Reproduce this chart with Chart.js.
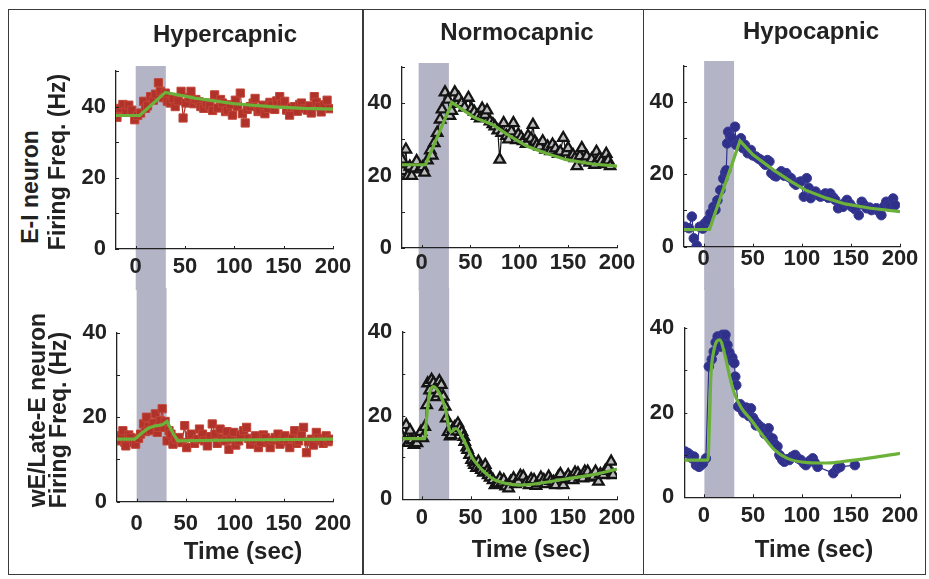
<!DOCTYPE html>
<html>
<head>
<meta charset="utf-8">
<script src="https://cdn.jsdelivr.net/npm/chart.js@4.4.0/dist/chart.umd.min.js"></script>
<style>
html,body{margin:0;padding:0;background:#fff;}
#wrap{position:relative;width:929px;height:579px;overflow:hidden;background:#fff;font-family:Arial,"Liberation Sans",Helvetica,sans-serif;}
#wrap canvas{position:absolute;}
.box{position:absolute;border:1.5px solid #3a3a3a;box-sizing:border-box;pointer-events:none;}
.t{position:absolute;font-weight:bold;color:#222;white-space:nowrap;line-height:1;transform:translate(-50%,-50%);}
.r{transform:translate(-50%,-50%) rotate(-90deg);}
</style>
</head>
<body>
<div id="wrap"></div>
<script>
// ---------------- DATA ----------------
const xTickValues = [0, 50, 100, 150, 200];
const yTickValues = [0, 20, 40];
const xRange = [-20, 200];
const yMaxByRow = [50, 40];
const columnTitles = ['Hypercapnic', 'Normocapnic', 'Hypocapnic'];
const rowTitles = [['E-I neuron', 'Firing Freq. (Hz)'], ['wE/Late-E neuron', 'Firing Freq. (Hz)']];
const xAxisTitle = 'Time (sec)';
// stimulus (gray band) windows, sec, per column
const stimulusWindows = [[0, 30.5], [-3, 28], [0.5, 31]];

// E-I neuron, hypercapnic  [time s, rate Hz]
const hyperEI = [[-19,37.0],[-16,39.5],[-13,40.6],[-10,38.5],[-7,40.4],[-4,39.0],[-1,36.3],[2,37.5],[5,38.2],[8,41.5],[10,39.5],[12,40.2],[15,42.8],[18,41.8],[20,43.5],[23,46.7],[25,44.3],[28,42.5],[30,43.8],[32,41.5],[35,41.0],[38,42.2],[40,40.0],[43,41.6],[46,44.3],[48,36.8],[51,41.0],[54,42.5],[56,44.3],[59,40.8],[61,42.0],[64,41.4],[66,40.0],[69,39.5],[72,41.0],[75,40.2],[78,38.9],[80,43.3],[83,39.6],[86,42.0],[88,41.0],[91,38.6],[93,39.0],[96,40.5],[98,37.6],[101,41.8],[103,40.0],[106,43.8],[108,38.0],[111,35.4],[113,39.2],[116,40.0],[119,41.0],[121,42.3],[124,38.6],[126,39.0],[129,40.4],[131,38.0],[134,39.5],[136,41.2],[138,40.5],[141,39.2],[143,41.6],[146,42.8],[148,40.8],[151,41.5],[153,39.0],[156,37.6],[158,39.8],[161,40.0],[164,38.7],[166,40.6],[168,41.0],[171,39.4],[174,39.0],[176,40.2],[178,38.2],[181,42.8],[183,41.2],[186,40.0],[188,38.5],[191,40.5],[194,41.8],[197,39.4]];
const hyperEIFit = [[-20,37.5],[4,37.5],[30,44.0],[60,42.4],[100,40.8],[140,39.9],[170,39.5],[200,39.3]];

// E-I neuron, normocapnic
const normoEI = [[-20,24.4],[-19,21.2],[-16,27.2],[-14,19.9],[-12,22.5],[-10,19.9],[-7,22.0],[-5,24.0],[-2,21.7],[1,22.3],[3,20.8],[6,24.2],[9,27.0],[11,25.5],[13,29.0],[16,31.8],[19,35.5],[21,38.3],[24,43.0],[27,41.0],[29,36.5],[31,37.9],[34,43.0],[36,39.8],[38,41.5],[41,40.0],[44,38.8],[48,41.5],[51,38.5],[54,37.6],[57,36.5],[60,35.8],[62,38.5],[65,36.8],[67,38.0],[70,35.0],[73,34.2],[75,33.6],[78,32.5],[80,24.4],[82,31.8],[84,34.5],[87,31.0],[89,30.0],[92,32.2],[94,34.5],[97,29.8],[99,31.4],[102,30.6],[104,29.5],[107,28.8],[109,31.0],[112,30.2],[114,34.0],[116,29.4],[118,28.5],[121,28.0],[124,29.5],[127,27.2],[129,28.0],[132,26.8],[134,28.6],[137,27.5],[140,26.0],[142,26.6],[145,30.4],[148,26.4],[150,27.6],[153,25.2],[155,25.7],[157,24.8],[159,22.6],[162,25.4],[164,27.6],[167,24.2],[169,25.3],[172,23.6],[174,24.5],[177,23.0],[179,26.6],[182,24.8],[184,24.0],[187,23.2],[189,26.0],[191,24.2],[193,22.6]];
const normoEIFit = [[-20,23.0],[4,23.0],[27,37.5],[31,40.2],[54,36.0],[72,34.2],[90,31.0],[108,28.1],[128,26.1],[148,24.4],[175,23.2],[200,22.6]];

// E-I neuron, hypocapnic
const hypoEI = [[-19,5.5],[-15,5.1],[-12,8.3],[-10,2.3],[-7,0.3],[-4,5.5],[-1,5.0],[1,6.4],[4,7.3],[7,9.2],[10,11.0],[12,10.2],[14,12.8],[17,15.6],[20,18.8],[22,20.5],[23,21.1],[24,28.5],[25,31.7],[27,30.5],[29,29.9],[32,33.1],[33,28.1],[36,28.9],[38,29.9],[40,27.2],[42,28.1],[45,25.8],[48,26.7],[50,25.2],[53,24.9],[56,24.3],[58,24.0],[61,23.2],[63,22.6],[65,23.9],[67,23.5],[69,20.3],[72,19.6],[74,19.4],[77,20.2],[79,20.8],[82,19.6],[84,20.3],[87,19.2],[89,18.9],[92,17.6],[94,17.1],[97,17.8],[99,18.0],[102,13.8],[105,18.9],[107,16.2],[109,13.4],[112,14.6],[114,15.2],[117,14.2],[119,13.8],[122,14.1],[124,14.7],[127,13.5],[129,14.7],[132,13.6],[134,12.9],[137,10.6],[140,11.4],[142,11.0],[144,12.2],[146,12.9],[149,11.8],[151,11.0],[154,10.4],[158,8.7],[161,12.4],[163,11.6],[166,10.6],[169,10.8],[171,10.1],[174,10.4],[176,10.6],[179,9.6],[181,8.7],[184,11.2],[186,12.4],[188,11.6],[190,11.0],[193,13.3],[195,11.5]];
const hypoEIFit = [[-20,4.7],[6,4.8],[37,29.2],[50,25.4],[71,21.2],[90,17.8],[104,15.6],[125,13.4],[144,11.8],[170,10.6],[200,9.7]];

// wE/Late-E neuron, hypercapnic
const hyperLE = [[-19,14.4],[-16,15.6],[-14,16.8],[-12,14.0],[-11,13.2],[-8,15.8],[-6,15.2],[-3,14.0],[-1,13.6],[2,15.0],[4,16.0],[7,18.4],[9,16.6],[10,20.0],[12,17.8],[14,16.8],[17,18.6],[19,20.8],[21,16.4],[22,17.6],[24,19.2],[26,22.0],[28,17.6],[29,19.0],[31,14.4],[33,16.8],[35,16.0],[37,13.6],[40,14.8],[43,15.2],[46,14.0],[49,18.0],[51,12.8],[54,15.6],[56,16.0],[59,13.8],[62,14.8],[64,17.2],[67,16.0],[69,14.4],[72,13.2],[75,15.4],[77,18.4],[80,16.0],[82,13.8],[85,17.2],[87,15.0],[90,14.4],[92,16.6],[94,12.4],[96,14.8],[99,16.4],[101,13.4],[104,14.4],[106,15.8],[109,16.8],[112,17.6],[114,15.0],[116,13.6],[119,14.6],[121,15.6],[124,12.8],[126,14.0],[129,15.8],[131,15.2],[134,14.0],[136,12.8],[139,14.6],[141,15.2],[144,16.0],[146,13.6],[149,14.8],[151,15.6],[154,14.2],[156,12.8],[159,15.0],[161,16.8],[163,13.8],[165,14.4],[168,15.8],[170,17.6],[173,11.6],[175,14.2],[178,14.8],[180,13.4],[183,16.4],[185,15.0],[188,14.4],[190,13.8],[193,15.6],[195,14.2],[197,14.8]];
const hyperLEFit = [[-20,14.8],[-2,14.8],[5,16.2],[12,17.4],[18,17.9],[26,18.2],[31,19.0],[37,16.2],[42,14.4],[100,14.6],[200,14.8]];

// wE/Late-E neuron, normocapnic
const normoLE = [[-20,14.9],[-18,13.7],[-16,17.7],[-14,13.5],[-12,16.4],[-10,14.1],[-8,13.0],[-5,13.4],[-3,14.8],[-1,16.1],[1,14.6],[3,17.3],[5,22.5],[6,27.7],[8,26.0],[10,28.5],[12,27.8],[13,26.1],[15,24.4],[17,25.3],[18,28.2],[20,27.3],[22,24.5],[24,22.1],[25,19.3],[27,16.1],[29,15.0],[30,15.3],[32,16.8],[34,17.3],[36,16.2],[37,18.1],[39,17.0],[41,16.1],[43,14.9],[44,13.7],[46,12.4],[47,11.8],[49,10.6],[51,9.4],[53,8.8],[54,8.2],[56,7.5],[58,9.0],[60,7.8],[61,7.0],[63,6.4],[65,8.2],[67,6.8],[68,5.8],[70,5.2],[73,4.6],[75,3.4],[78,3.8],[80,5.0],[82,4.0],[84,4.6],[86,3.1],[89,2.6],[91,4.2],[94,5.0],[96,3.6],[99,4.2],[101,5.6],[104,5.4],[107,4.0],[110,3.4],[112,4.8],[115,4.6],[117,3.2],[120,3.8],[122,5.2],[125,4.6],[127,3.6],[130,5.4],[132,4.4],[135,4.2],[137,3.4],[140,5.4],[142,6.0],[145,3.4],[147,4.8],[150,5.8],[152,5.0],[155,4.6],[157,6.4],[160,6.2],[162,5.2],[165,5.0],[167,6.6],[170,6.6],[173,5.2],[176,5.4],[178,6.6],[181,4.2],[183,6.0],[186,5.8],[188,6.8],[191,7.4],[194,9.0],[196,5.8]];
const normoLEFit = [[-20,14.5],[3,14.5],[5,19.7],[8,25.3],[12,26.9],[18,25.3],[24,21.7],[28,16.9],[30,16.1],[35,16.9],[42,14.6],[52,9.8],[65,6.3],[75,4.6],[86,3.8],[100,3.4],[120,3.8],[141,4.6],[160,5.3],[176,5.9],[200,7.2]];

// wE/Late-E neuron, hypocapnic
const hypoLE = [[-19,10.8],[-16,10.4],[-14,10.0],[-12,9.2],[-10,9.6],[-8,7.6],[-6,7.8],[-5,7.2],[-3,7.6],[-1,8.0],[2,9.2],[5,30.9],[8,32.6],[10,34.4],[12,36.6],[14,38.0],[16,37.0],[17,35.6],[19,38.4],[21,37.4],[22,38.4],[24,36.0],[26,34.2],[27,32.5],[29,33.0],[31,31.7],[32,28.5],[33,26.5],[35,21.4],[37,22.0],[38,21.0],[40,20.2],[41,19.9],[43,21.2],[44,20.2],[46,19.2],[48,21.0],[50,18.8],[51,18.3],[53,17.0],[54,17.5],[57,16.8],[60,16.3],[62,15.0],[63,15.5],[65,14.8],[66,16.3],[68,13.8],[70,13.9],[72,12.6],[75,12.0],[77,10.0],[78,9.6],[80,8.8],[82,8.4],[85,9.0],[87,8.8],[90,9.6],[93,10.0],[96,9.2],[99,8.8],[102,8.0],[104,7.6],[108,8.6],[111,9.2],[113,8.2],[116,7.2],[132,5.7],[136,6.8],[139,7.2],[154,7.6]];
const hypoLEFit = [[-20,8.8],[4,8.8],[6,20],[7,28],[10,34.5],[16,37.2],[22,33.0],[26,28.8],[31,24.6],[38,21.2],[48,18.3],[60,14.6],[72,11.2],[85,9.2],[106,8.2],[125,8.1],[140,8.4],[170,9.3],[200,10.4]];

// ---------------- STYLE / LAYOUT ----------------
const FONT = 'Arial, "Liberation Sans", Helvetica, sans-serif';
const markerStyles = {
  red:  {pointStyle: 'rect', radius: 5.8, bg: '#b0322a', border: '#c24536', line: '#b0322a', bw: 1},
  tri:  {pointStyle: 'triangle', radius: 6, bg: '#bdbdbd', border: '#141414', line: '#141414', bw: 2.3},
  blue: {pointStyle: 'circle', radius: 4.8, bg: '#2f3089', border: '#3a3b96', line: '#2f3089', bw: 1}
};
const fitColor = '#6cb23a';
const bandColor = '#b4b4c7';

const panels = [
  {data: hyperEI, fit: hyperEIFit, m: 'red',  row: 0, col: 0, smooth: false,
   canvas: {l: 56, t: 30, r: 363, b: 290}, area: {l: 116, t: 71, r: 333, b: 249}, xPad: 6.5, bandOver: 5},
  {data: normoEI, fit: normoEIFit, m: 'tri',  row: 0, col: 1, smooth: false,
   canvas: {l: 342, t: 30, r: 647, b: 290}, area: {l: 402, t: 67, r: 617, b: 248}, xPad: 4, bandOver: 4},
  {data: hypoEI,  fit: hypoEIFit,  m: 'blue', row: 0, col: 2, smooth: false,
   canvas: {l: 624, t: 30, r: 929, b: 290}, area: {l: 684, t: 65.5, r: 900, b: 246.7}, xPad: 1.5, bandOver: 4.5},
  {data: hyperLE, fit: hyperLEFit, m: 'red',  row: 1, col: 0, smooth: false,
   canvas: {l: 57, t: 288, r: 363, b: 540}, area: {l: 117, t: 332.7, r: 333, b: 501.7}, xPad: 11},
  {data: normoLE, fit: normoLEFit, m: 'tri',  row: 1, col: 1, smooth: true,
   canvas: {l: 342, t: 288, r: 647, b: 540}, area: {l: 402.3, t: 331.7, r: 617, b: 499.3}, xPad: 7.5},
  {data: hypoLE,  fit: hypoLEFit,  m: 'blue', row: 1, col: 2, smooth: true,
   canvas: {l: 624, t: 288, r: 929, b: 540}, area: {l: 684.3, t: 328, r: 900, b: 497.3}, xPad: 8}
];

const bandPlugin = {
  id: 'stimBand',
  beforeDraw(chart, args, opts) {
    const {ctx, chartArea, scales} = chart;
    const x0 = scales.x.getPixelForValue(opts.from);
    const x1 = scales.x.getPixelForValue(opts.to);
    const top = opts.row === 0 ? chartArea.top - opts.over : 0;
    const bottom = opts.row === 0 ? chart.height : chartArea.bottom;
    ctx.save();
    ctx.fillStyle = bandColor;
    ctx.fillRect(x0, top, x1 - x0, bottom - top);
    ctx.restore();
  }
};

// small inward tick marks on both axes
const innerTicks = {
  id: 'innerTicks',
  afterDatasetsDraw(chart) {
    const {ctx, chartArea, scales} = chart;
    ctx.save();
    ctx.strokeStyle = '#222';
    ctx.lineWidth = 1;
    ctx.beginPath();
    for (let v = 0; v <= scales.y.max; v += 10) {
      const py = Math.round(scales.y.getPixelForValue(v)) + 0.5;
      ctx.moveTo(chartArea.left, py); ctx.lineTo(chartArea.left + 3, py);
    }
    xTickValues.forEach(v => {
      const px = Math.round(scales.x.getPixelForValue(v)) + 0.5;
      ctx.moveTo(px, chartArea.bottom); ctx.lineTo(px, chartArea.bottom - 3);
    });
    ctx.stroke();
    ctx.restore();
  }
};

const wrap = document.getElementById('wrap');
const toXY = arr => arr.map(([x, y]) => ({x, y}));

panels.forEach(p => {
  const cv = document.createElement('canvas');
  const w = p.canvas.r - p.canvas.l, h = p.canvas.b - p.canvas.t;
  cv.width = w; cv.height = h;
  cv.style.left = p.canvas.l + 'px'; cv.style.top = p.canvas.t + 'px';
  cv.style.width = w + 'px'; cv.style.height = h + 'px';
  wrap.appendChild(cv);
  const yAxisW = p.area.l - p.canvas.l;
  const xAxisH = p.canvas.b - p.area.b;
  const ms = markerStyles[p.m];
  const win = stimulusWindows[p.col];
  const tickFont = {family: FONT, size: 22, weight: 'bold', lineHeight: 1};
  new Chart(cv, {
    type: 'scatter',
    data: {
      datasets: [
        {data: toXY(p.fit), showLine: true, borderColor: fitColor, borderWidth: 3.2,
         pointRadius: 0, fill: false,
         tension: p.smooth ? 0.4 : 0, cubicInterpolationMode: p.smooth ? 'monotone' : 'default'},
        {data: toXY(p.data), showLine: true, borderColor: ms.line, borderWidth: 1.2,
         pointStyle: ms.pointStyle, pointRadius: ms.radius, pointBackgroundColor: ms.bg,
         pointBorderColor: ms.border, pointBorderWidth: ms.bw, fill: false, tension: 0}
      ]
    },
    options: {
      responsive: false, animation: false, events: [],
      devicePixelRatio: 1,
      layout: {padding: {left: 0, top: p.area.t - p.canvas.t, right: p.canvas.r - p.area.r, bottom: 0}},
      plugins: {legend: {display: false}, tooltip: {enabled: false},
                stimBand: {from: win[0], to: win[1], row: p.row, over: p.bandOver || 0}},
      scales: {
        x: {type: 'linear', min: xRange[0], max: xRange[1],
            grid: {display: false, drawTicks: false},
            border: {display: true, color: '#222', width: 1.3},
            ticks: {font: tickFont, color: '#222', padding: p.xPad, maxRotation: 0, autoSkip: false},
            afterBuildTicks: s => { s.ticks = xTickValues.map(v => ({value: v})); },
            afterFit: s => { s.height = xAxisH; s.paddingLeft = 0; s.paddingRight = 0; }},
        y: {type: 'linear', min: 0, max: yMaxByRow[p.row],
            grid: {display: false, drawTicks: false},
            border: {display: true, color: '#222', width: 1.3},
            ticks: {font: tickFont, color: '#222', padding: 10},
            afterBuildTicks: s => { s.ticks = yTickValues.map(v => ({value: v})); },
            afterFit: s => { s.width = yAxisW; s.paddingTop = 0; s.paddingBottom = 0; }}
      }
    },
    plugins: [bandPlugin, innerTicks]
  });
});

// ---------------- TEXT & FRAMES ----------------
function addText(txt, x, y, size, rotate) {
  const d = document.createElement('div');
  d.className = 't' + (rotate ? ' r' : '');
  d.textContent = txt;
  d.style.left = x + 'px'; d.style.top = y + 'px'; d.style.fontSize = size + 'px';
  wrap.appendChild(d);
}
const titlePos = [[225, 34], [517, 32], [811, 31]];
columnTitles.forEach((t, i) => addText(t, titlePos[i][0], titlePos[i][1], 24, false));
const xTitlePos = [[243, 551], [531, 549], [814, 549]];
xTitlePos.forEach(pos => addText(xAxisTitle, pos[0], pos[1], 24, false));
const rowTitlePos = [[[30, 187], [57, 162]], [[37, 410], [58, 420]]];
rowTitles.forEach((lines, r) => lines.forEach((t, k) => addText(t, rowTitlePos[r][k][0], rowTitlePos[r][k][1], 23, true)));

const frames = [[8, 9, 363.5, 575], [362, 9, 644, 575], [642.5, 9, 926, 575]];
frames.forEach(([l, t, r, b]) => {
  const d = document.createElement('div');
  d.className = 'box';
  d.style.left = l + 'px'; d.style.top = t + 'px';
  d.style.width = (r - l) + 'px'; d.style.height = (b - t) + 'px';
  wrap.appendChild(d);
});
</script>
</body>
</html>
